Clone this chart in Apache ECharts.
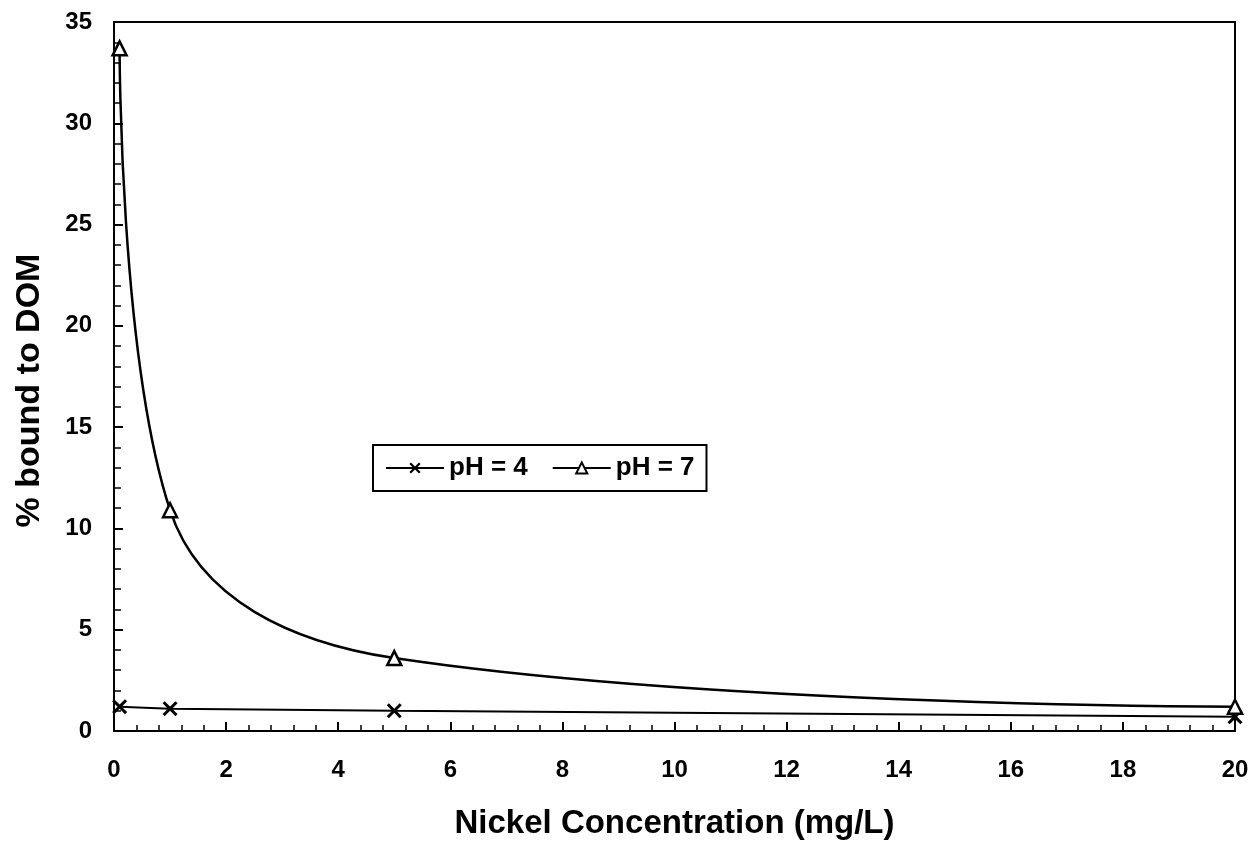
<!DOCTYPE html>
<html>
<head>
<meta charset="utf-8">
<script src="https://cdn.jsdelivr.net/npm/echarts@6/dist/echarts.min.js"></script>
<style>html,body{margin:0;padding:0;background:#fff}#c{width:1255px;height:845px}</style>
</head>
<body>
<div id="c"></div>
<script>
var nickel = [0.1, 1, 5, 20];
var ph4 = [1.2, 1.1, 1.0, 0.7];
var ph7 = [33.7, 10.9, 3.6, 1.2];
var seriesNames = ['pH = 4', 'pH = 7'];
var xTitle = 'Nickel Concentration (mg/L)';
var yTitle = '% bound to DOM';

function pairs(xs, ys) { return xs.map(function (x, i) { return [x, ys[i]]; }); }

var FONT = '"Liberation Sans", Arial, sans-serif';
var crossPath = 'path://M0,1.4L1.4,0L5,3.6L8.6,0L10,1.4L6.4,5L10,8.6L8.6,10L5,6.4L1.4,10L0,8.6L3.6,5Z';

var chart = echarts.init(document.getElementById('c'));
chart.setOption({
  animation: false,
  backgroundColor: '#fff',
  grid: { left: 114, right: 20, top: 22, bottom: 111, show: true, borderColor: '#000', borderWidth: 2, backgroundColor: 'transparent' },
  legend: {
    left: 373, top: 445,
    orient: 'horizontal',
    padding: [10, 12, 10, 12],
    itemGap: 24,
    itemWidth: 58, itemHeight: 14,
    borderColor: '#000', borderWidth: 2,
    textStyle: { fontFamily: FONT, fontSize: 26, color: '#000', fontWeight: 'bold' },
    data: seriesNames
  },
  xAxis: {
    type: 'value', min: 0, max: 20, interval: 2,
    name: xTitle, nameLocation: 'middle', nameGap: 76,
    nameTextStyle: { fontFamily: FONT, fontSize: 33, fontWeight: 'bold', color: '#000' },
    axisLine: { show: true, lineStyle: { color: '#000', width: 2 } },
    axisTick: { show: true, inside: true, length: 9, lineStyle: { color: '#000', width: 2 } },
    minorTick: { show: true, splitNumber: 5, length: 6, lineStyle: { color: '#000', width: 1.5 } },
    axisLabel: { fontFamily: FONT, fontSize: 24, fontWeight: 'bold', color: '#000', margin: 27 },
    splitLine: { show: false }
  },
  yAxis: {
    type: 'value', min: 0, max: 35, interval: 5,
    name: yTitle, nameLocation: 'middle', nameGap: 67, nameRotate: 90,
    nameTextStyle: { fontFamily: FONT, fontSize: 34, fontWeight: 'bold', color: '#000', padding: [0, 28, 0, 0] },
    axisLine: { show: true, lineStyle: { color: '#000', width: 2 } },
    axisTick: { show: true, inside: true, length: 9, lineStyle: { color: '#000', width: 2 } },
    minorTick: { show: true, splitNumber: 5, length: 7, lineStyle: { color: '#000', width: 1.5 } },
    axisLabel: { fontFamily: FONT, fontSize: 24, fontWeight: 'bold', color: '#000', margin: 22 },
    splitLine: { show: false }
  },
  series: [
    {
      name: seriesNames[0], type: 'line', data: pairs(nickel, ph4),
      symbol: crossPath, symbolSize: 15,
      lineStyle: { color: '#000', width: 2 },
      itemStyle: { color: '#000', borderWidth: 0 }
    },
    {
      name: seriesNames[1], type: 'line', data: pairs(nickel, ph7),
      smooth: 0.4,
      symbol: 'triangle', symbolSize: 14,
      lineStyle: { color: '#000', width: 2.5 },
      itemStyle: { color: '#fff', borderColor: '#000', borderWidth: 2.5 }
    }
  ]
});
</script>
</body>
</html>
